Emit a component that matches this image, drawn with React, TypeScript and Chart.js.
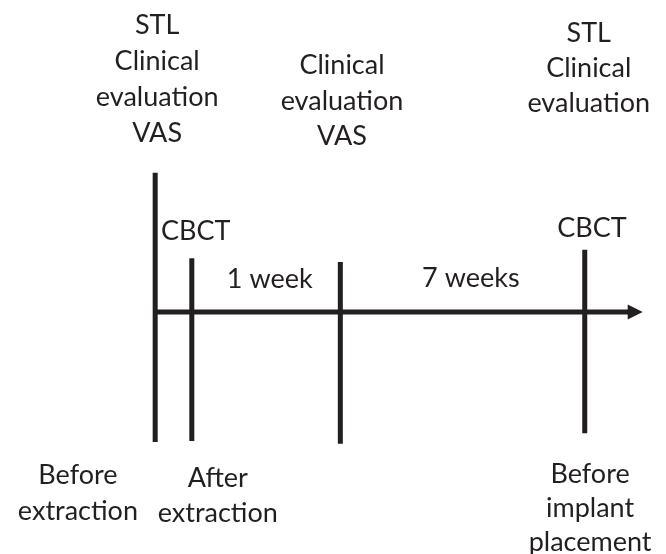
import React, { useEffect, useRef } from "react";
import { Chart, registerables } from "chart.js";

Chart.register(...registerables);

// Layout units: x and y both run 0..100 across the figure (y upward)
const eventNames = ["Before extraction", "After extraction", "1 week", "Before implant placement"];
const eventX = [23.3, 28.8, 51.1, 87.8];
const eventTop = [68.8, 53.4, 52.7, 54.9];
const eventBottom = [20.2, 20.4, 19.9, 21.8];

const axisY = 43.7;
const axisStart = 23.3;
const axisEnd = 96.5;

// Text labels: x centre, first-line baseline, lines
const labelX = [23.6, 51.35, 88.4, 29.4, 40.5, 70.7, 88.9, 11.7, 32.7, 88.6];
const labelY = [93.95, 86.6, 92.4, 56.7, 48.0, 48.2, 57.2, 12.6, 12.1, 12.82];
const labelLines: string[][] = [
  ["STL", "Clinical", "evaluation", "VAS"],
  ["Clinical", "evaluation", "VAS"],
  ["STL", "Clinical", "evaluation"],
  ["CBCT"],
  ["1 week"],
  ["7 weeks"],
  ["CBCT"],
  ["Before", "extraction"],
  ["After", "extraction"],
  ["Before", "implant", "placement"],
];
const labelGap = [36, 35.5, 35, 0, 0, 0, 0, 36, 35, 34];

const INK = "#231f20";
const FONT = "27px Lato";

const overlay = {
  id: "overlay",
  afterDatasetsDraw(chart: any) {
    const { ctx, scales } = chart;
    const xs = scales.x;
    const ys = scales.y;
    ctx.save();
    // arrowhead
    const tx = xs.getPixelForValue(axisEnd);
    const ty = ys.getPixelForValue(axisY);
    ctx.fillStyle = INK;
    ctx.beginPath();
    ctx.moveTo(tx, ty);
    ctx.lineTo(tx - 15, ty - 7.5);
    ctx.lineTo(tx - 15, ty + 7.5);
    ctx.closePath();
    ctx.fill();
    // labels
    ctx.font = FONT;
    ctx.textAlign = "center";
    ctx.textBaseline = "alphabetic";
    labelLines.forEach((lines, i) => {
      const cx = xs.getPixelForValue(labelX[i]);
      const by = ys.getPixelForValue(labelY[i]);
      lines.forEach((t, j) => ctx.fillText(t, cx, by + j * labelGap[i]));
    });
    ctx.restore();
  },
};

export default function App() {
  const ref = useRef<HTMLCanvasElement | null>(null);
  useEffect(() => {
    document.body.style.margin = "0";
    const datasets: any[] = eventNames.map((n, i) => ({
      label: n,
      data: [
        { x: eventX[i], y: eventTop[i] },
        { x: eventX[i], y: eventBottom[i] },
      ],
      showLine: true,
      borderColor: INK,
      borderWidth: 5,
      pointRadius: 0,
      borderCapStyle: "butt",
    }));
    datasets.push({
      label: "timeline",
      data: [
        { x: axisStart, y: axisY },
        { x: axisEnd - 2, y: axisY },
      ],
      showLine: true,
      borderColor: INK,
      borderWidth: 5,
      pointRadius: 0,
      borderCapStyle: "butt",
    });
    const chart = new Chart(ref.current!, {
      type: "scatter",
      data: { datasets },
      plugins: [overlay],
      options: {
        animation: false,
        responsive: false,
        maintainAspectRatio: false,
        layout: { padding: 0 },
        plugins: { legend: { display: false }, tooltip: { enabled: false } },
        scales: {
          x: { type: "linear", min: 0, max: 100, display: false },
          y: { type: "linear", min: 0, max: 100, display: false },
        },
      },
    });
    return () => chart.destroy();
  }, []);
  return (
    <div style={{ width: 666, height: 554, background: "#fff" }}>
      <canvas ref={ref} width={666} height={554} style={{ display: "block" }} />
    </div>
  );
}
